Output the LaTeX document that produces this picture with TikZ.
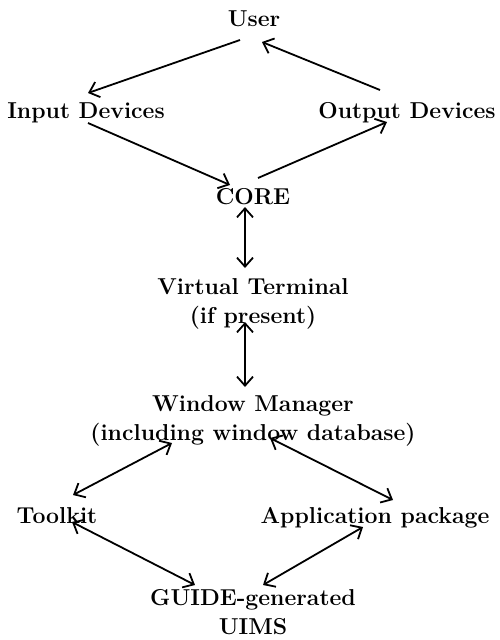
\documentclass[tikz,border=0pt]{standalone}
\usetikzlibrary{arrows.meta}
\begin{document}
\begin{tikzpicture}[x=1pt,y=-1pt,
  lbl/.style={font=\fontsize{23}{29}\selectfont\bfseries, inner sep=0pt, anchor=base, align=center},
  conn/.style={line width=1.8pt, -{Straight Barb[length=9pt,width=16pt,line width=1.8pt]}},
  biconn/.style={line width=1.8pt, {Straight Barb[length=9pt,width=16pt,line width=1.8pt]}-{Straight Barb[length=9pt,width=16pt,line width=1.8pt]}}]
\useasboundingbox (0,0) rectangle (499,640);
\node[lbl] (user) at (254,26) {User};
\node[lbl] (input) at (86,118) {Input Devices};
\node[lbl] (output) at (407,118) {Output Devices};
\node[lbl] (core) at (253,204) {CORE};
\node[lbl] (vt) at (253,323) {Virtual Terminal\\(if present)};
\node[lbl] (wm) at (253,440) {Window Manager\\(including window database)};
\node[lbl] (toolkit) at (57,523) {Toolkit};
\node[lbl] (app) at (375,523) {Application package};
\node[lbl] (guide) at (253,634) {GUIDE-generated\\UIMS};
\draw[conn] ([shift={(-14,14)}]user.base) -- ([shift={(2,-25)}]input.base);
\draw[conn] ([shift={(-27,-28)}]output.base) -- ([shift={(8,16)}]user.base);
\draw[conn] ([shift={(2,5)}]input.base) -- ([shift={(-23,-19)}]core.base);
\draw[conn] ([shift={(5,-26)}]core.base) -- ([shift={(-20,4)}]output.base);
\draw[biconn] ([shift={(-8,3)}]core.base) -- ([shift={(-8,-55)}]vt.base);
\draw[biconn] ([shift={(-8,-1)}]vt.base) -- ([shift={(-8,-53)}]wm.base);
\draw[biconn] ([shift={(-81,3)}]wm.base) -- ([shift={(16,-28)}]toolkit.base);
\draw[biconn] ([shift={(17,-2)}]wm.base) -- ([shift={(18,-23)}]app.base);
\draw[biconn] ([shift={(15,-1)}]toolkit.base) -- ([shift={(-58,-49)}]guide.base);
\draw[biconn] ([shift={(-12,4)}]app.base) -- ([shift={(10,-49)}]guide.base);
\end{tikzpicture}
\end{document}
